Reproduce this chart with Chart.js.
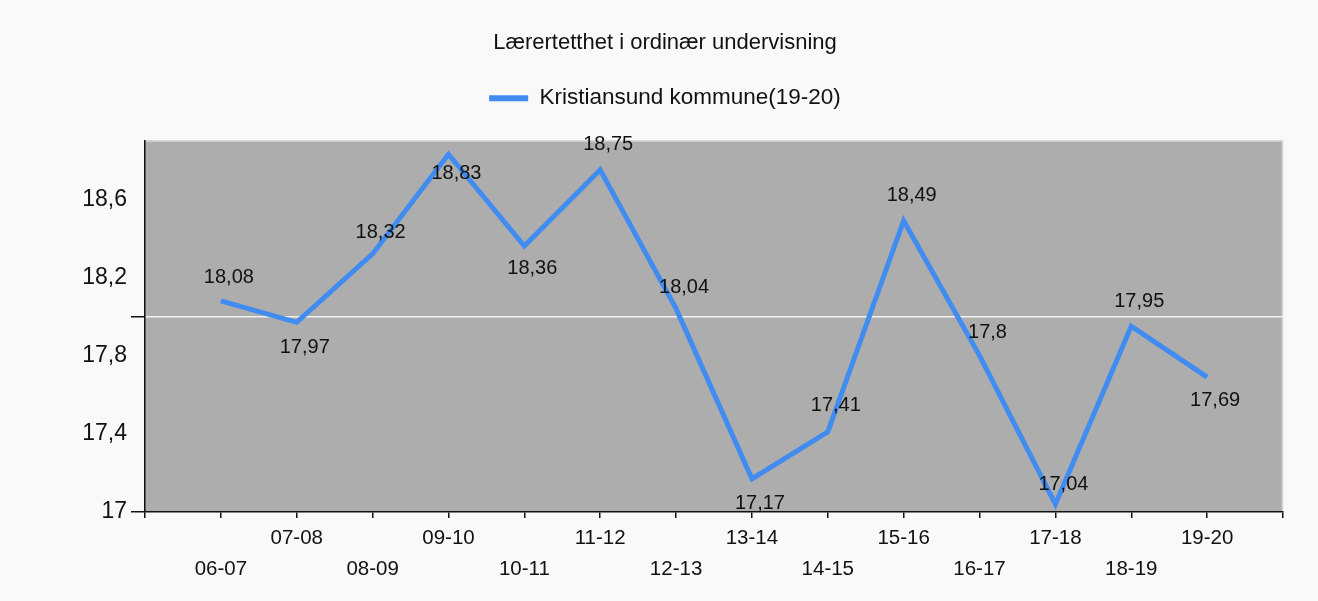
<!DOCTYPE html>
<html><head><meta charset="utf-8">
<script src="https://cdn.jsdelivr.net/npm/chart.js@4/dist/chart.umd.min.js"></script>
<style>
html,body{margin:0;padding:0;background:#f9f9f9;}
#wrap{width:1318px;height:601px;position:relative;}
</style>
</head><body>
<div id="wrap"><canvas id="c"></canvas></div>
<script>
const chartTitle = 'Lærertetthet i ordinær undervisning';
const seriesName = 'Kristiansund kommune(19-20)';
const categories = ['06-07','07-08','08-09','09-10','10-11','11-12','12-13','13-14','14-15','15-16','16-17','17-18','18-19','19-20'];
const values = [18.08,17.97,18.32,18.83,18.36,18.75,18.04,17.17,17.41,18.49,17.80,17.04,17.95,17.69];
const yTickLabels = [17,17.4,17.8,18.2,18.6];
const referenceLine = 18;
const yMin = 17, yMax = 18.9;

const FONT = "'Liberation Sans', Arial, sans-serif";
const fmt = v => String(+v.toFixed(2)).replace('.', ',');

// label placement relative to each point (style)
const labelDy = [-23, 25, -21, 19, 22, -25, -21, 25, -26, -25, -23, -20, -25, 23];
const labelDx = 8;

const bgPlugin = {
  id: 'bg',
  beforeDraw(chart) {
    const {ctx, chartArea: a} = chart;
    ctx.save();
    ctx.fillStyle = '#f9f9f9';
    ctx.fillRect(0, 0, chart.width, chart.height);
    ctx.fillStyle = '#adadad';
    ctx.fillRect(a.left, a.top, a.right - a.left, a.bottom - a.top);
    ctx.strokeStyle = '#d8d8d8';
    ctx.lineWidth = 1.5;
    ctx.beginPath();
    ctx.moveTo(a.left, a.top + 0.5); ctx.lineTo(a.right - 0.5, a.top + 0.5); ctx.lineTo(a.right - 0.5, a.bottom);
    ctx.stroke();
    ctx.restore();
  }
};

// empty layout box that keeps a gap between the legend and the plot
const spacerPlugin = {
  id: 'spacer',
  beforeInit(chart) {
    Chart.layouts.addBox(chart, {
      id: 'legendSpacer', position: 'top', weight: 500, fullSize: true,
      options: {},
      left: 0, top: 0, right: 0, bottom: 0, width: 0, height: 0,
      isHorizontal() { return true; },
      update(maxWidth) { this.width = maxWidth; this.height = 21; },
      draw() {}
    });
  }
};

const labelPlugin = {
  id: 'pointLabels',
  afterDatasetsDraw(chart) {
    const {ctx} = chart;
    const meta = chart.getDatasetMeta(0);
    ctx.save();
    ctx.font = '20px ' + FONT;
    ctx.fillStyle = '#111';
    ctx.textAlign = 'center';
    ctx.textBaseline = 'middle';
    meta.data.forEach((pt, i) => {
      ctx.fillText(fmt(values[i]), pt.x + labelDx, pt.y + labelDy[i]);
    });
    ctx.restore();
  }
};

new Chart(document.getElementById('c'), {
  type: 'line',
  data: {
    datasets: [{
      label: seriesName,
      data: values.map((v, i) => ({x: i + 1, y: v})),
      borderColor: '#418cf0',
      backgroundColor: '#418cf0',
      borderWidth: 5,
      pointRadius: 0,
      tension: 0,
      fill: false
    }]
  },
  options: {
    responsive: true,
    maintainAspectRatio: false,
    animation: false,
    devicePixelRatio: 1,
    layout: {padding: {left: 47, right: 35, top: 0, bottom: 0}},
    plugins: {
      title: {
        display: true, text: chartTitle, color: '#111',
        font: {family: FONT, size: 22, weight: 'normal', lineHeight: 1},
        padding: {top: 32, bottom: 0}
      },
      legend: {
        display: true,
        labels: {
          color: '#111',
          font: {family: FONT, size: 22.5},
          boxWidth: 39, boxHeight: 6, padding: 33,
          generateLabels(chart) {
            const items = Chart.defaults.plugins.legend.labels.generateLabels(chart);
            items.forEach(it => { it.lineWidth = 0; it.fillStyle = '#418cf0'; it.strokeStyle = '#418cf0'; });
            return items;
          }
        }
      },
      tooltip: {enabled: false}
    },
    scales: {
      x: {
        type: 'linear', min: 0, max: categories.length + 1,
        afterBuildTicks(scale) {
          scale.ticks = Array.from({length: categories.length + 2}, (_, i) => ({value: i}));
        },
        afterFit(scale) { scale.height = 89; },
        ticks: {
          autoSkip: false, maxRotation: 0, minRotation: 0,
          color: '#111', font: {family: FONT, size: 20.5, lineHeight: 1.5}, padding: 5,
          callback(v) {
            const i = Math.round(v) - 1;
            if (i < 0 || i >= categories.length) return '';
            return i % 2 === 0 ? ['', categories[i]] : [categories[i], ''];
          }
        },
        grid: {display: true, drawOnChartArea: false, drawTicks: true, tickLength: 6, color: '#111', tickColor: '#111', lineWidth: 1.5},
        border: {display: true, color: '#111', width: 1.5}
      },
      y: {
        type: 'linear', min: yMin, max: yMax,
        afterBuildTicks(scale) {
          const vals = yTickLabels.concat([referenceLine]).sort((a, b) => a - b);
          scale.ticks = vals.map(v => ({value: v}));
        },
        afterFit(scale) { scale.width = 98; },
        ticks: {
          color: '#111', font: {family: FONT, size: 23}, padding: 4,
          callback(v) { return yTickLabels.includes(+v.toFixed(1)) ? fmt(v) : ''; }
        },
        grid: {
          drawTicks: true, tickLength: 14,
          color: ctx => (ctx.tick && ctx.tick.value === referenceLine) ? '#f2f2f2' : 'rgba(0,0,0,0)',
          tickColor: ctx => (ctx.tick && (ctx.tick.value === referenceLine || ctx.tick.value === yMin)) ? '#111' : 'rgba(0,0,0,0)',
          lineWidth: 1.5
        },
        border: {display: true, color: '#111', width: 1.5}
      }
    }
  },
  plugins: [bgPlugin, spacerPlugin, labelPlugin]
});
</script>
</body></html>
